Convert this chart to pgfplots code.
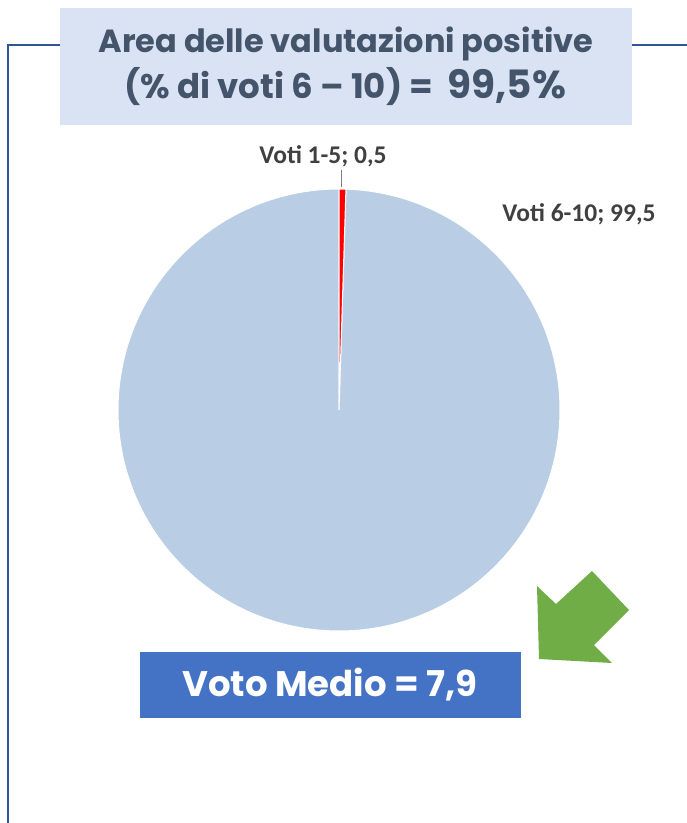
\documentclass[border=0pt]{standalone}
\usepackage{fontspec}
\usepackage{pgfplots}
\usepackage{pgfplotstable}
\pgfplotsset{compat=1.18}
\newfontfamily\gothic{Poppins}
\newfontfamily\calib{Carlito}
\definecolor{framec}{HTML}{2F5597}
\definecolor{titlebg}{HTML}{DAE3F3}
\definecolor{titlefg}{HTML}{44546A}
\definecolor{piehi}{HTML}{B9CDE5}
\definecolor{pielo}{HTML}{FF0000}
\definecolor{lblc}{HTML}{404040}
\definecolor{boxc}{HTML}{4472C4}
\definecolor{arrowc}{HTML}{70AD47}

% share of votes
\pgfplotstableread{
cls value
1-5 0.5
6-10 99.5
}\piedata
\pgfplotstablegetelem{0}{value}\of\piedata \let\vlow\pgfplotsretval
\pgfmathsetmacro\angA{90-3.6*\vlow}

\begin{document}
\begin{tikzpicture}
\begin{axis}[
  scale only axis,
  width=687pt, height=823pt,
  xmin=0, xmax=687, ymin=0, ymax=823,
  y dir=reverse,
  hide axis,
  clip=false,
]
% frame
\draw[framec, line width=2.5pt] (axis cs:60,45) -- (axis cs:8,45) -- (axis cs:8,823);
\draw[framec, line width=2.5pt] (axis cs:632,45) -- (axis cs:687,45);
% title box
\fill[titlebg] (axis cs:60,8) rectangle (axis cs:632,125);
\node[text=titlefg, font=\gothic\bfseries\fontsize{32}{34}\selectfont, anchor=base] at (axis cs:346,52) {Area delle valutazioni positive};
\node[text=titlefg, font=\gothic\bfseries\fontsize{34}{36}\selectfont, anchor=base] at (axis cs:345,98)
  {(\% di voti 6 – 10) = \ {\fontsize{39}{42}\selectfont 99,5\%}};
% pie
\fill[piehi, draw=white, line width=1pt] (axis cs:339,410) -- ++(\angA:221pt) arc[start angle=\angA, end angle=-270, radius=221pt] -- cycle;
\fill[pielo, draw=white, line width=1pt] (axis cs:339,410) -- ++(90:221pt) arc[start angle=90, end angle=\angA, radius=221pt] -- cycle;
\draw[gray, line width=0.8pt] (axis cs:341,187) -- (axis cs:341,170);
\node[text=lblc, font=\calib\bfseries\fontsize{25.5}{28}\selectfont] at (axis cs:323,156) {Voti 1-5; 0,5};
\node[text=lblc, font=\calib\bfseries\fontsize{25.5}{28}\selectfont] at (axis cs:579,214) {Voti 6-10; 99,5};
% arrow
\fill[arrowc] (axis cs:539,659) -- (axis cs:537,586) -- (axis cs:556,604) -- (axis cs:592,571)
  -- (axis cs:629,610) -- (axis cs:594,645) -- (axis cs:612,663) -- cycle;
% average box
\fill[boxc] (axis cs:140,652) rectangle (axis cs:521,718);
\node[text=white, font=\gothic\bfseries\fontsize{35.5}{38}\selectfont] at (axis cs:330,685) {Voto Medio = 7,9};
\end{axis}
\pgfresetboundingbox
\path (0,0) rectangle (687pt,823pt);
\end{tikzpicture}
\end{document}
